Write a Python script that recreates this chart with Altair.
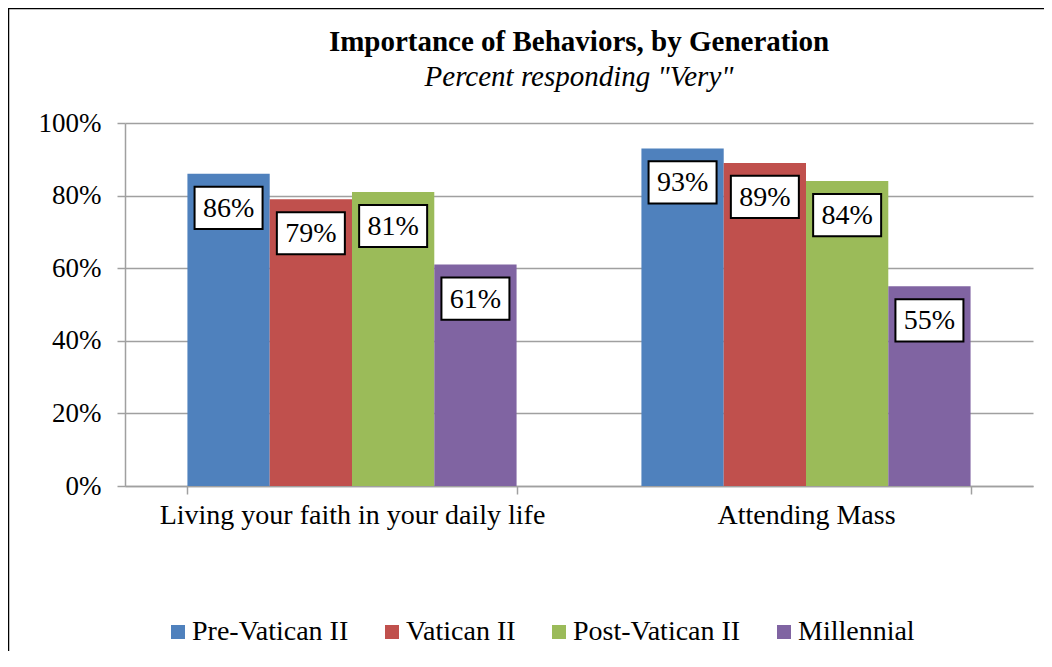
import altair as alt
import pandas as pd

categories = ["Living your faith in your daily life", "Attending Mass"]
series = ["Pre-Vatican II", "Vatican II", "Post-Vatican II", "Millennial"]
living = [86, 79, 81, 61]
mass = [93, 89, 84, 55]
colors = ["#4F81BD", "#C0504D", "#9BBB59", "#8064A2"]
y_ticks = [0, 0.2, 0.4, 0.6, 0.8, 1.0]

rows = []
for cat, vals in zip(categories, [living, mass]):
    for s, v in zip(series, vals):
        rows.append({"category": cat, "series": s, "value": v / 100})
df = pd.DataFrame(rows)

FONT = "Liberation Serif, Times New Roman, serif"
GRID = "#A0A0A0"

x_enc = alt.X("category:N", sort=categories,
              scale=alt.Scale(paddingInner=0.275, paddingOuter=0.1375),
              axis=alt.Axis(title=None, labelAngle=0, labelFont=FONT, labelFontSize=28,
                            labelColor="black", tickBand="extent", tickSize=8,
                            tickColor=GRID, domainColor=GRID, domainWidth=1.5,
                            tickWidth=1.5, labelPadding=7, labelLimit=800, grid=False))
xo_enc = alt.XOffset("series:N", sort=series,
                     scale=alt.Scale(paddingInner=0, paddingOuter=0))
y_enc = alt.Y("value:Q", scale=alt.Scale(domain=[0, 1], nice=False),
              axis=alt.Axis(title=None, values=y_ticks, format=".0%", labelFont=FONT,
                            labelFontSize=27, labelColor="black", grid=True,
                            gridColor=GRID, gridWidth=1.5, tickSize=8, tickColor=GRID,
                            tickWidth=1.5, domainColor=GRID, domainWidth=1.5,
                            labelPadding=16))

base = alt.Chart(df)

bars = base.mark_bar().encode(
    x=x_enc, xOffset=xo_enc, y=y_enc,
    color=alt.Color("series:N", sort=series,
                    scale=alt.Scale(domain=series, range=colors),
                    legend=alt.Legend(title=None, orient="none", legendX=39, legendY=495,
                                      direction="horizontal", symbolType="square",
                                      symbolSize=196, symbolStrokeWidth=0,
                                      labelFont=FONT, labelFontSize=28,
                                      labelColor="black", labelOffset=0,
                                      columnPadding=29, labelLimit=400))
)

box_path = "M-1,-0.62L1,-0.62L1,0.62L-1,0.62Z"
boxes = base.mark_point(shape=box_path, filled=True, fill="white", stroke="black",
                        strokeWidth=2, size=68 * 68, opacity=1, yOffset=34).encode(
    x=alt.X("category:N", sort=categories), xOffset=alt.XOffset("series:N", sort=series),
    y="value:Q"
)

labels = base.mark_text(font=FONT, fontSize=28, color="black", baseline="middle",
                        align="center", yOffset=35).encode(
    x=alt.X("category:N", sort=categories), xOffset=alt.XOffset("series:N", sort=series),
    y="value:Q", text=alt.Text("value:Q", format=".0%")
)

frame = alt.Chart(pd.DataFrame({"a": [0]})).mark_rect(
    fillOpacity=0, stroke="black", strokeWidth=2.5
).encode(x=alt.value(-117), x2=alt.value(1000), y=alt.value(-115), y2=alt.value(700))

chart = alt.layer(bars, boxes, labels, frame).properties(
    width=908, height=363,
    title=alt.TitleParams(
        text="Importance of Behaviors, by Generation",
        subtitle='Percent responding "Very"',
        font=FONT, fontSize=29, fontWeight="bold", color="black",
        subtitleFont=FONT, subtitleFontSize=29, subtitleFontStyle="italic",
        subtitleColor="black", subtitlePadding=6, anchor="middle", offset=-85),
    autosize=alt.AutoSizeParams(type="none"),
    padding={"left": 117, "top": 115, "right": 11, "bottom": 165},
    background="white"
).configure_view(stroke=None)

chart.save("out.html", embed_options={"renderer": "svg", "actions": False})
